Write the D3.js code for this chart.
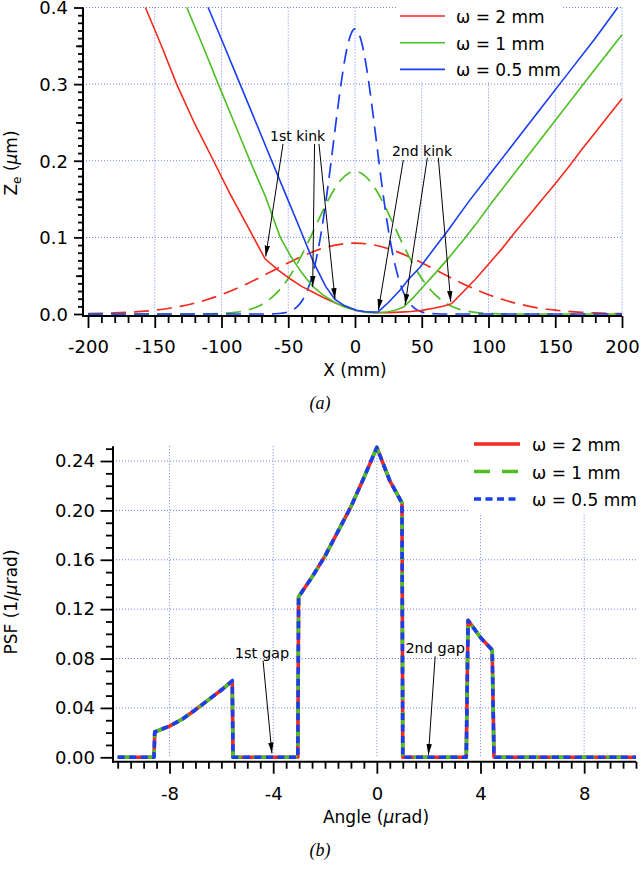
<!DOCTYPE html>
<html><head><meta charset="utf-8">
<script src="https://cdn.jsdelivr.net/npm/d3@7"></script>
<style>body{margin:0;background:#fff}svg{display:block}</style>
</head><body>
<svg id="c" width="640" height="871"></svg>
<script>
// ---------- Panel (a) data: Ze (um) vs X (mm) ----------
const solid_w2 = [[-157,0.400],[-145,0.350],[-133.6,0.300],[-120,0.248],[-106,0.200],[-94,0.158],[-80,0.113],[-67.4,0.072],[-58,0.058],[-48.7,0.046],[-40,0.036],[-31,0.028],[-23,0.021],[-15,0.0145],[-7,0.009],[1,0.0045],[8,0.0025],[16,0.0017],[25,0.0018],[34,0.0024],[42,0.0032],[50,0.0047],[58.7,0.0074],[66,0.010],[72.4,0.0135],[80,0.027],[90,0.045],[100,0.065],[110,0.085],[120,0.107],[130,0.128],[140,0.149],[150,0.170],[160,0.192],[170,0.215],[180,0.237],[190,0.259],[200,0.281]];
const solid_w1 = [[-126,0.400],[-114,0.350],[-102.4,0.300],[-90.5,0.250],[-78.7,0.200],[-67,0.153],[-56,0.100],[-48,0.075],[-40,0.054],[-31.7,0.036],[-24,0.025],[-16,0.016],[-8,0.009],[1,0.0045],[8,0.0025],[16,0.0017],[25,0.003],[30,0.005],[36.5,0.0092],[44,0.022],[51,0.0355],[60,0.053],[68.6,0.070],[80,0.094],[90,0.116],[103.6,0.148],[120,0.185],[140,0.230],[160,0.275],[180,0.320],[200,0.3645]];
const solid_w05 = [[-110,0.400],[-98,0.350],[-86.1,0.300],[-74.2,0.250],[-62.4,0.200],[-50,0.148],[-40,0.106],[-31.2,0.068],[-22,0.036],[-15,0.019],[-8,0.011],[1,0.005],[8,0.003],[13,0.0025],[17.5,0.003],[25,0.015],[33.7,0.031],[40,0.045],[48.7,0.061],[60,0.087],[70,0.110],[84.9,0.146],[100,0.180],[120,0.225],[140,0.270],[160,0.315],[180,0.360],[196.8,0.400]];
const dashed_w2 = [[-200,0.0005],[-190,0.0008],[-180,0.0014],[-170,0.0022],[-160,0.0033],[-150,0.0050],[-140,0.0072],[-130,0.0103],[-120,0.0142],[-110,0.0192],[-100,0.0252],[-90,0.0323],[-80,0.0402],[-70,0.0489],[-60,0.0579],[-50,0.0668],[-40,0.0751],[-30,0.0823],[-20,0.0878],[-10,0.0913],[0,0.0925],[10,0.0913],[20,0.0878],[30,0.0823],[40,0.0751],[50,0.0668],[60,0.0579],[70,0.0489],[80,0.0402],[90,0.0323],[100,0.0252],[110,0.0192],[120,0.0142],[130,0.0103],[140,0.0072],[150,0.0050],[160,0.0033],[170,0.0022],[180,0.0014],[190,0.0008],[200,0.0005]];
const dashed_w1 = [[-200,0],[-150,0],[-120,0],[-110,0.0002],[-100,0.0007],[-90,0.0021],[-80,0.0053],[-75,0.0082],[-70,0.0122],[-65,0.0178],[-60,0.0252],[-55,0.0347],[-50,0.0464],[-45,0.0604],[-40,0.0765],[-35,0.0942],[-30,0.1128],[-25,0.1314],[-20,0.1489],[-15,0.1641],[-10,0.1759],[-5,0.1834],[0,0.186],[5,0.1834],[10,0.1759],[15,0.1641],[20,0.1489],[25,0.1314],[30,0.1128],[35,0.0942],[40,0.0765],[45,0.0604],[50,0.0464],[55,0.0347],[60,0.0252],[65,0.0178],[70,0.0122],[75,0.0082],[80,0.0053],[90,0.0021],[100,0.0007],[110,0.0002],[120,0],[150,0],[200,0]];
const dashed_w05 = [[-200,0],[-150,0],[-100,0],[-70,0],[-60,0.0003],[-55,0.0010],[-50,0.0028],[-45,0.0071],[-42.5,0.0109],[-40,0.0163],[-37.5,0.0239],[-35,0.0340],[-32.5,0.0473],[-30,0.0641],[-27.5,0.0849],[-25,0.1097],[-22.5,0.1384],[-20,0.1703],[-17.5,0.2046],[-15,0.2397],[-12.5,0.2742],[-10,0.3060],[-7.5,0.3333],[-5,0.3543],[-2.5,0.3675],[0,0.372],[2.5,0.3675],[5,0.3543],[7.5,0.3333],[10,0.3060],[12.5,0.2742],[15,0.2397],[17.5,0.2046],[20,0.1703],[22.5,0.1384],[25,0.1097],[27.5,0.0849],[30,0.0641],[32.5,0.0473],[35,0.0340],[37.5,0.0239],[40,0.0163],[42.5,0.0109],[45,0.0071],[50,0.0028],[55,0.0010],[60,0.0003],[70,0],[100,0],[150,0],[200,0]];
const legendA = ["ω = 2 mm","ω = 1 mm","ω = 0.5 mm"];
const xTicksA = [-200,-150,-100,-50,0,50,100,150,200];
const yTicksA = [0.0,0.1,0.2,0.3,0.4];
// annotation arrows: [startX, startZ, tipX, tipZ]
const kink1Arrows = [[-53.9,0.222,-66.9,0.075],[-30.3,0.222,-31.7,0.0355],[-27,0.222,-15,0.0195]];
const kink2Arrows = [[36.2,0.201,17.5,0.005],[54.2,0.204,37.5,0.0117],[62.4,0.204,71.7,0.016]];
const kinkLabels = [["1st kink",-43,0.226],["2nd kink",50.2,0.2065]];

// ---------- Panel (b) data: PSF vs angle ----------
const psfAngle = [-10,-8.6,-8.57,-8.0,-7.5,-7.0,-6.5,-6.0,-5.58,-5.55,-3.05,-3.02,-2.5,-2.0,-1.5,-1.0,-0.5,0,0.5,0.97,1.0,3.45,3.52,4.0,4.45,4.52,10];
const psf_w2  = [0,0,0.0205,0.0253,0.031,0.0385,0.0465,0.0545,0.062,0,0,0.130,0.146,0.163,0.183,0.203,0.2265,0.251,0.224,0.206,0,0,0.111,0.097,0.087,0,0];
const psf_w1  = [0,0,0.0205,0.0253,0.031,0.0385,0.0465,0.0545,0.062,0,0,0.130,0.146,0.163,0.183,0.203,0.2265,0.251,0.224,0.206,0,0,0.111,0.097,0.087,0,0];
const psf_w05 = [0,0,0.0205,0.0253,0.031,0.0385,0.0465,0.0545,0.062,0,0,0.130,0.146,0.163,0.183,0.203,0.2265,0.251,0.224,0.206,0,0,0.111,0.097,0.087,0,0];
const legendB = ["ω = 2 mm","ω = 1 mm","ω = 0.5 mm"];
const xTicksB = [-8,-4,0,4,8];
const yTicksB = [0.00,0.04,0.08,0.12,0.16,0.20,0.24];
const gapArrows = [[-4.39,0.0782,-4.05,0.0032],[2.25,0.0818,1.99,0.0019]];
const gapLabels = [["1st gap",-4.43,0.0804],["2nd gap",2.25,0.0847]];

// ---------- drawing ----------
const F = "DejaVu Sans, sans-serif";
const RED = "#f42a1c", GREEN = "#4cbf22", BLUE = "#1a3df0", GRID = "#7284f0";
const svg = d3.select("#c");
const defs = svg.append("defs");
defs.append("marker").attr("id","arr").attr("markerUnits","userSpaceOnUse")
  .attr("markerWidth",12).attr("markerHeight",7).attr("refX",11).attr("refY",3.5).attr("orient","auto")
  .append("path").attr("d","M0,0.8 L11,3.5 L0,6.2 Z").attr("fill","#000");

function gridLines(g, xs, ys, x, y, x0, y0) {
  xs.forEach(v => g.append("line").attr("x1",x(v)).attr("x2",x(v)).attr("y1",y0[0]).attr("y2",y0[1]));
  ys.forEach(v => g.append("line").attr("y1",y(v)).attr("y2",y(v)).attr("x1",x0[0]).attr("x2",x0[1]));
  g.attr("stroke",GRID).attr("stroke-width",1).attr("stroke-dasharray","1,2");
}

// ===== Panel (a) =====
const xA = d3.scaleLinear().domain([-200,200]).range([88,622]);
const yA = d3.scaleLinear().domain([0,0.4]).range([314,7.5]);
gridLines(svg.append("g"), [-150,-100,-50,0,50,100,150,200], [0.1,0.2,0.3,0.4], xA, yA, [83,622], [yA(0.4),316]);
svg.append("rect").attr("x",397).attr("y",0).attr("width",165).attr("height",81).attr("fill","#fff");

const lineA = d3.line().x(d=>xA(d[0])).y(d=>yA(d[1]));
const lineAs = d3.line().x(d=>xA(d[0])).y(d=>yA(d[1])).curve(d3.curveMonotoneX);
[[dashed_w2,RED],[dashed_w1,GREEN],[dashed_w05,BLUE]].forEach(([d,c]) =>
  svg.append("path").attr("d",lineAs(d)).attr("fill","none").attr("stroke",c).attr("stroke-width",1.7).attr("stroke-dasharray","15,8"));
[[solid_w2,RED],[solid_w1,GREEN],[solid_w05,BLUE]].forEach(([d,c]) =>
  svg.append("path").attr("d",lineA(d)).attr("fill","none").attr("stroke",c).attr("stroke-width",1.6));

// axes (a)
const gxA = svg.append("g").attr("transform","translate(0,316)");
gxA.call(d3.axisBottom(xA).tickValues(xTicksA).tickSize(12).tickPadding(12).tickFormat(d=>String(d)));
gxA.append("g").call(d3.axisBottom(xA).tickValues(d3.range(-200,201,10).filter(v=>v%50!==0)).tickSize(7).tickFormat(""));
const gyA = svg.append("g").attr("transform","translate(83,0)");
gyA.call(d3.axisLeft(yA).tickValues(yTicksA).tickSize(9).tickPadding(6).tickFormat(d3.format(".1f")));
gyA.append("g").call(d3.axisLeft(yA).tickValues(d3.range(1,40).filter(v=>v%10!==0).map(v=>v/100)).tickSize(5).tickFormat(""));
gyA.append("g").call(d3.axisLeft(yA).tickValues([0.05,0.15,0.25,0.35]).tickSize(7).tickFormat(""));
[gxA,gyA].forEach(g=>{
  g.selectAll(".domain").remove();
  g.selectAll("line").attr("stroke","#000").attr("stroke-width",1.8);
  g.selectAll("text").attr("font-family",F).attr("font-size",18).attr("fill","#000");
});
gyA.selectAll(".tick text").attr("dy","0.36em");
svg.append("line").attr("x1",82).attr("x2",622).attr("y1",316).attr("y2",316).attr("stroke","#000").attr("stroke-width",2);
svg.append("line").attr("x1",83).attr("x2",83).attr("y1",yA(0.4)).attr("y2",317).attr("stroke","#000").attr("stroke-width",2);

// axis titles (a)
svg.append("text").attr("x",355).attr("y",376).attr("text-anchor","middle").attr("font-family",F).attr("font-size",17).text("X (mm)");
const ytA = svg.append("text").attr("transform","translate(17,163) rotate(-90)").attr("text-anchor","middle").attr("font-family",F).attr("font-size",17);
ytA.append("tspan").text("Z");
ytA.append("tspan").attr("font-size",12).attr("dy",4).text("e");
ytA.append("tspan").attr("dy",-4).text(" (");
ytA.append("tspan").attr("font-style","italic").text("μ");
ytA.append("tspan").text("m)");
svg.append("text").attr("x",320).attr("y",409).attr("text-anchor","middle").attr("font-family","Liberation Serif, serif").attr("font-style","italic").attr("font-size",18).text("(a)");

// annotations (a)
[...kink1Arrows, ...kink2Arrows].forEach(a =>
  svg.append("line").attr("x1",xA(a[0])).attr("y1",yA(a[1])).attr("x2",xA(a[2])).attr("y2",yA(a[3]))
    .attr("stroke","#000").attr("stroke-width",1).attr("marker-end","url(#arr)"));
kinkLabels.forEach(l => svg.append("text").attr("x",xA(l[1])).attr("y",yA(l[2])).attr("text-anchor","middle")
  .attr("font-family",F).attr("font-size",14).text(l[0]));

// legend (a)
legendA.forEach((t,i) => {
  const y = 16 + i*26.7;
  svg.append("line").attr("x1",400).attr("x2",445).attr("y1",y).attr("y2",y).attr("stroke",[RED,GREEN,BLUE][i]).attr("stroke-width",1.6);
  svg.append("text").attr("x",456).attr("y",y+7).attr("font-family",F).attr("font-size",17).text(t);
});

// ===== Panel (b) =====
const xB = d3.scaleLinear().domain([-10,10]).range([117.7,636]);
const yB = d3.scaleLinear().domain([0,0.252]).range([757.3,446.2]);
gridLines(svg.append("g"), xTicksB, [0.04,0.08,0.12,0.16,0.20,0.24], xB, yB, [113,636], [yB(0.252),758]);
svg.append("rect").attr("x",468).attr("y",440).attr("width",172).attr("height",73).attr("fill","#fff");

const lineB = d3.line().x(d=>xB(d[0])).y(d=>yB(d[1]));
const styles = [[psf_w2,RED,null],[psf_w1,GREEN,"16,12"],[psf_w05,BLUE,"7,4.5"]];
styles.forEach(([vals,c,da]) => {
  const p = svg.append("path").attr("d",lineB(psfAngle.map((a,i)=>[a,vals[i]])))
    .attr("fill","none").attr("stroke",c).attr("stroke-width",3.6).attr("stroke-linejoin","round");
  if (da) p.attr("stroke-dasharray",da);
});

// axes (b)
const gxB = svg.append("g").attr("transform","translate(0,761.7)");
gxB.call(d3.axisBottom(xB).tickValues(xTicksB).tickSize(12).tickPadding(13.5).tickFormat(d=>String(d)));
gxB.append("g").call(d3.axisBottom(xB).tickValues(d3.range(-20,21).filter(v=>v%8!==0).map(v=>v/2)).tickSize(7).tickFormat(""));
const gyB = svg.append("g").attr("transform","translate(113,0)");
gyB.call(d3.axisLeft(yB).tickValues(yTicksB).tickSize(12.5).tickPadding(5.5).tickFormat(d3.format(".2f")));
gyB.append("g").call(d3.axisLeft(yB).tickValues(d3.range(1,26).filter(v=>v%4!==0).map(v=>v/100)).tickSize(7).tickFormat(""));
[gxB,gyB].forEach(g=>{
  g.selectAll(".domain").remove();
  g.selectAll("line").attr("stroke","#000").attr("stroke-width",1.8);
  g.selectAll("text").attr("font-family",F).attr("font-size",18).attr("fill","#000");
});
svg.append("line").attr("x1",112).attr("x2",636).attr("y1",761.7).attr("y2",761.7).attr("stroke","#000").attr("stroke-width",2);
svg.append("line").attr("x1",113).attr("x2",113).attr("y1",yB(0.252)).attr("y2",762.7).attr("stroke","#000").attr("stroke-width",2);

// axis titles (b)
const xtB = svg.append("text").attr("x",376).attr("y",823).attr("text-anchor","middle").attr("font-family",F).attr("font-size",17);
xtB.append("tspan").text("Angle (");
xtB.append("tspan").attr("font-style","italic").text("μ");
xtB.append("tspan").text("rad)");
const ytB = svg.append("text").attr("transform","translate(17,602) rotate(-90)").attr("text-anchor","middle").attr("font-family",F).attr("font-size",17);
ytB.append("tspan").text("PSF (1/");
ytB.append("tspan").attr("font-style","italic").text("μ");
ytB.append("tspan").text("rad)");
svg.append("text").attr("x",320).attr("y",856).attr("text-anchor","middle").attr("font-family","Liberation Serif, serif").attr("font-style","italic").attr("font-size",18).text("(b)");

// annotations (b)
gapArrows.forEach(a =>
  svg.append("line").attr("x1",xB(a[0])).attr("y1",yB(a[1])).attr("x2",xB(a[2])).attr("y2",yB(a[3]))
    .attr("stroke","#000").attr("stroke-width",1).attr("marker-end","url(#arr)"));
gapLabels.forEach(l => svg.append("text").attr("x",xB(l[1])).attr("y",yB(l[2])).attr("text-anchor","middle")
  .attr("font-family",F).attr("font-size",14.5).text(l[0]));

// legend (b)
legendB.forEach((t,i) => {
  const y = 444 + i*27.5;
  const ln = svg.append("line").attr("x1",474).attr("x2",520).attr("y1",y).attr("y2",y).attr("stroke",styles[i][1]).attr("stroke-width",3.6);
  if (styles[i][2]) ln.attr("stroke-dasharray",styles[i][2]);
  svg.append("text").attr("x",532).attr("y",y+7).attr("font-family",F).attr("font-size",17).text(t);
});
</script>
</body></html>
